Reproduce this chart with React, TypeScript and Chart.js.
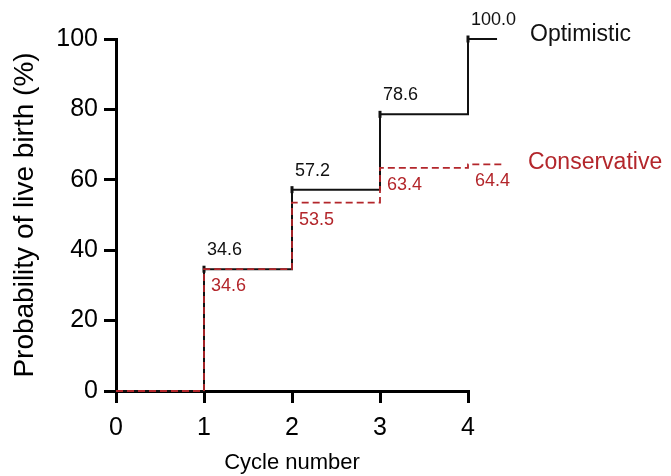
import React, { useEffect, useRef } from 'react';
import { Chart, registerables } from 'chart.js';

Chart.register(...registerables);

const cycles = [0, 1, 2, 3, 4];
const optimisticValues = [0, 34.6, 57.2, 78.6, 100.0];
const conservativeValues = [0, 34.6, 53.5, 63.4, 64.4];
const optimisticTailEnd = 4.33;
const conservativeTailEnd = 4.42;
const xAxisMax = 4;
const seriesNames = ['Optimistic', 'Conservative'];
const yAxisTitle = 'Probability of live birth (%)';
const xAxisTitle = 'Cycle number';

const FONT = "'Liberation Sans', Arial, Helvetica, sans-serif";
const RED = '#b3262b';
const BLACK = '#111111';

const App: React.FC = () => {
  const canvasRef = useRef<HTMLCanvasElement | null>(null);

  useEffect(() => {
    if (!canvasRef.current) return;

    const optimisticData = cycles
      .map((c, i) => ({ x: c, y: optimisticValues[i] }))
      .concat([{ x: optimisticTailEnd, y: optimisticValues[optimisticValues.length - 1] }]);
    const conservativeData = cycles
      .map((c, i) => ({ x: c, y: conservativeValues[i] }))
      .concat([{ x: conservativeTailEnd, y: conservativeValues[conservativeValues.length - 1] }]);

    const labelPlugin = {
      id: 'stepLabels',
      afterDatasetsDraw(chart: any) {
        const ctx = chart.ctx as CanvasRenderingContext2D;
        const xs = chart.scales.x;
        const ys = chart.scales.y;
        ctx.save();
        ctx.textAlign = 'left';
        ctx.textBaseline = 'middle';
        ctx.font = `18px ${FONT}`;
        for (let i = 1; i < cycles.length; i++) {
          const px = xs.getPixelForValue(cycles[i]);
          ctx.fillStyle = BLACK;
          ctx.fillText(optimisticValues[i].toFixed(1), px + 3, ys.getPixelForValue(optimisticValues[i]) - 19);
          ctx.fillStyle = RED;
          ctx.fillText(conservativeValues[i].toFixed(1), px + 7, ys.getPixelForValue(conservativeValues[i]) + 17);
        }
        ctx.font = `23px ${FONT}`;
        ctx.fillStyle = BLACK;
        ctx.fillText(
          seriesNames[0],
          xs.getPixelForValue(optimisticTailEnd) + 33,
          ys.getPixelForValue(optimisticValues[optimisticValues.length - 1]) - 4
        );
        ctx.fillStyle = RED;
        ctx.fillText(
          seriesNames[1],
          xs.getPixelForValue(conservativeTailEnd) + 23,
          ys.getPixelForValue(conservativeValues[conservativeValues.length - 1]) - 2
        );
        ctx.restore();
      },
    };

    const chart = new Chart(canvasRef.current, {
      type: 'line',
      data: {
        datasets: [
          {
            label: seriesNames[1],
            data: conservativeData,
            stepped: true,
            borderColor: RED,
            borderWidth: 1.8,
            borderDash: [7, 4],
            pointRadius: 0,
            fill: false,
            clip: false as any,
            order: 0,
          },
          {
            label: seriesNames[0],
            data: optimisticData,
            stepped: true,
            borderColor: BLACK,
            borderWidth: 2,
            pointRadius: optimisticData.map((_, i) => (i === 0 || i === optimisticData.length - 1 ? 0 : 3.5)),
            pointStyle: 'line',
            rotation: 90,
            pointBorderWidth: 3,
            pointBorderColor: BLACK,
            fill: false,
            clip: false as any,
            order: 1,
          },
        ],
      },
      options: {
        responsive: false,
        animation: false,
        events: [],
        layout: { padding: { left: 0, top: 39, right: 203, bottom: 0 } },
        plugins: {
          legend: { display: false },
          tooltip: { enabled: false },
        },
        scales: {
          x: {
            type: 'linear',
            min: 0,
            afterDataLimits: (s: any) => {
              s.min = 0;
              s.max = xAxisMax;
            },
            afterFit: (s: any) => {
              s.height = 85;
            },
            border: { color: '#000', width: 3 },
            grid: { drawOnChartArea: false, drawTicks: true, tickLength: 12, color: '#000', lineWidth: 3 },
            ticks: { stepSize: 1, color: '#000', font: { family: FONT, size: 25 }, padding: 10 },
            title: { display: true, text: xAxisTitle, color: '#000', font: { family: FONT, size: 22 }, padding: { top: 0, bottom: 0 } },
          },
          y: {
            type: 'linear',
            min: 0,
            max: 100,
            afterFit: (s: any) => {
              s.width = 116;
            },
            border: { color: '#000', width: 3 },
            grid: { drawOnChartArea: false, drawTicks: true, tickLength: 12, color: '#000', lineWidth: 3 },
            ticks: { stepSize: 20, color: '#000', font: { family: FONT, size: 25 }, padding: 6 },
            title: { display: true, text: yAxisTitle, color: '#000', font: { family: FONT, size: 28 }, padding: { top: 8, bottom: 0 } },
          },
        },
      },
      plugins: [labelPlugin],
    });

    return () => chart.destroy();
  }, []);

  return (
    <div style={{ position: 'fixed', left: 0, top: 0, width: 671, height: 476, background: '#fff' }}>
      <canvas ref={canvasRef} width={671} height={476} style={{ display: 'block' }} />
    </div>
  );
};

export default App;
